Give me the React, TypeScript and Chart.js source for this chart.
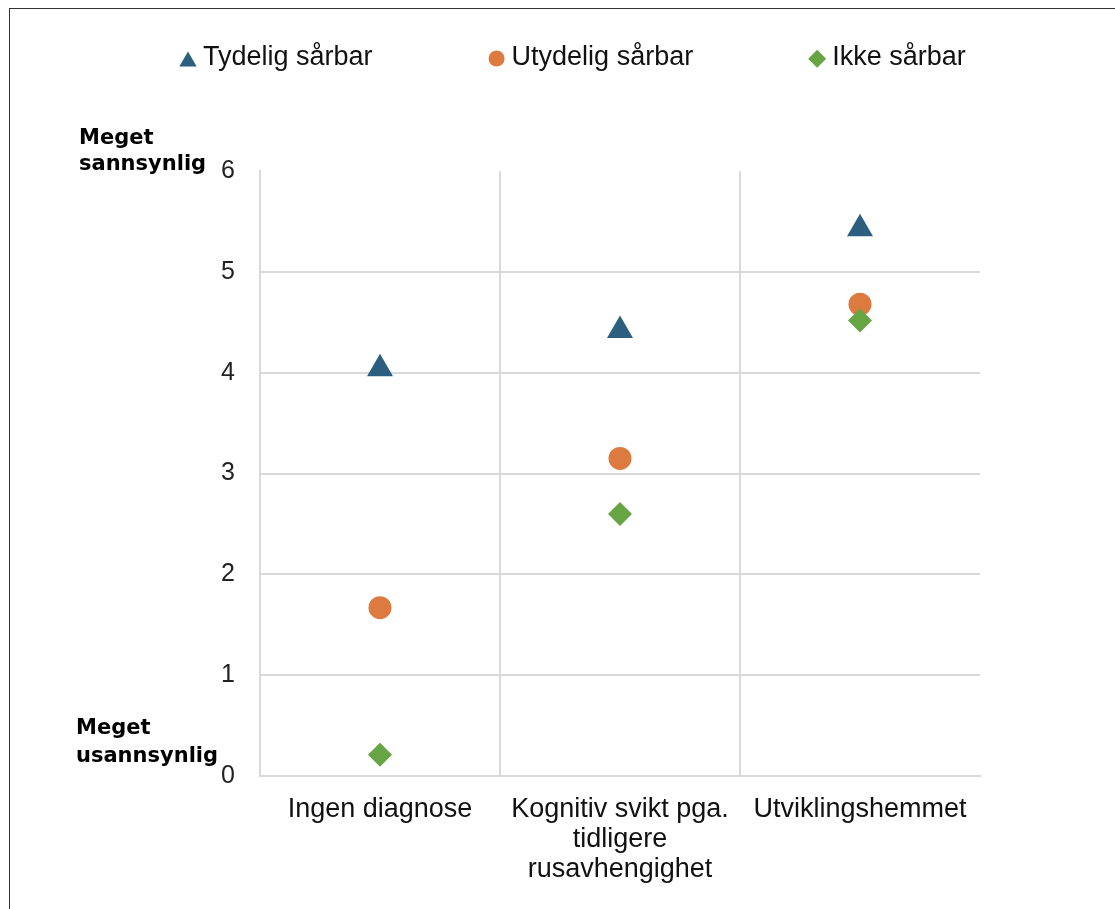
import React, { useEffect, useRef } from 'react';
import { Chart, registerables } from 'chart.js';
import { drawPoint } from 'chart.js/helpers';

Chart.register(...registerables);

const categories: (string | string[])[] = [
  'Ingen diagnose',
  ['Kognitiv svikt pga.', 'tidligere', 'rusavhengighet'],
  'Utviklingshemmet',
];
const seriesNames = ['Tydelig sårbar', 'Utydelig sårbar', 'Ikke sårbar'];
const tydelig = [4.04, 4.42, 5.43];
const utydelig = [1.67, 3.15, 4.68];
const ikke = [0.21, 2.6, 4.52];
const yTicks = [0, 1, 2, 3, 4, 5, 6];
const topLabel = ['Meget', 'sannsynlig'];
const bottomLabel = ['Meget', 'usannsynlig'];

const BLUE = '#2c5f7f';
const ORANGE = '#dd7a40';
const GREEN = '#67a544';
const GRID = '#d9d9d9';
const FONT = '"Liberation Sans", Arial, sans-serif';

const legendMarker: Record<string, { r: number; dy: number }> = {
  triangle: { r: 10, dy: 61.5 },
  circle: { r: 8, dy: 58.5 },
  rectRot: { r: 9, dy: 58.7 },
};

const annotate = {
  id: 'annotate',
  afterDraw(chart: any) {
    const { ctx } = chart;
    const y = chart.scales.y;
    ctx.save();
    // legend
    ctx.font = `27px ${FONT}`;
    ctx.textBaseline = 'alphabetic';
    ctx.textAlign = 'left';
    let cursor = 179;
    chart.data.datasets.forEach((ds: any) => {
      const m = legendMarker[ds.pointStyle];
      ctx.fillStyle = ds.backgroundColor;
      drawPoint(ctx, { pointStyle: ds.pointStyle, radius: m.r, rotation: 0, borderWidth: 0 } as any, cursor + 9, m.dy);
      ctx.fillStyle = '#111';
      const tx = cursor + 24;
      ctx.fillText(ds.label, tx, 65);
      cursor = tx + ctx.measureText(ds.label).width + 115;
    });
    // axis end labels
    ctx.font = `bold 21px "DejaVu Sans", sans-serif`;
    ctx.fillStyle = '#000';
    const yTop = y.getPixelForValue(6);
    const yBot = y.getPixelForValue(0);
    ctx.fillText(topLabel[0], 79, yTop - 27);
    ctx.fillText(topLabel[1], 79, yTop - 1);
    ctx.fillText(bottomLabel[0], 76, yBot - 42);
    ctx.fillText(bottomLabel[1], 76, yBot - 14);
    ctx.restore();
  },
};

export default function App() {
  const ref = useRef<HTMLCanvasElement | null>(null);
  useEffect(() => {
    if (!ref.current) return;
    const chart = new Chart(ref.current, {
      type: 'line',
      data: {
        labels: categories as any,
        datasets: [
          {
            label: seriesNames[0],
            data: tydelig,
            showLine: false,
            pointStyle: 'triangle',
            pointRadius: 15,
            pointHoverRadius: 15,
            backgroundColor: BLUE,
            borderColor: BLUE,
            pointBorderWidth: 0,
            order: 2,
          },
          {
            label: seriesNames[1],
            data: utydelig,
            showLine: false,
            pointStyle: 'circle',
            pointRadius: 11.5,
            pointHoverRadius: 11.5,
            backgroundColor: ORANGE,
            borderColor: ORANGE,
            pointBorderWidth: 0,
            order: 1,
          },
          {
            label: seriesNames[2],
            data: ikke,
            showLine: false,
            pointStyle: 'rectRot',
            pointRadius: 12,
            pointHoverRadius: 12,
            backgroundColor: GREEN,
            borderColor: GREEN,
            pointBorderWidth: 0,
            order: 0,
          },
        ] as any,
      },
      options: {
        animation: false,
        responsive: false,
        devicePixelRatio: 1,
        layout: { padding: { top: 171.2, right: 135, bottom: 0, left: 0 } },
        plugins: {
          legend: { display: false },
          tooltip: { enabled: false },
        },
        scales: {
          x: {
            type: 'category',
            offset: true,
            grid: {
              offset: true,
              drawTicks: false,
              lineWidth: 2,
              color: (c: any) => (c.type === 'tick' && c.index > 0 ? GRID : 'rgba(0,0,0,0)'),
            },
            border: { display: true, color: GRID, width: 2 },
            ticks: {
              autoSkip: false,
              maxRotation: 0,
              minRotation: 0,
              padding: 18,
              color: '#111',
              font: { family: FONT, size: 27, lineHeight: 1.12 },
            },
            afterFit: (s: any) => {
              s.height = 133;
            },
          } as any,
          y: {
            min: 0,
            max: 6,
            afterBuildTicks: (s: any) => {
              s.ticks = yTicks.map((v) => ({ value: v }));
            },
            grid: {
              drawTicks: false,
              lineWidth: 2,
              color: (c: any) => (c.tick && c.tick.value === 6 ? 'rgba(0,0,0,0)' : GRID),
            },
            border: { display: true, color: GRID, width: 2 },
            ticks: {
              padding: 25,
              color: '#222',
              font: { family: FONT, size: 25 },
            },
            afterFit: (s: any) => {
              s.width = 260;
            },
          } as any,
        },
      },
      plugins: [annotate],
    });
    return () => chart.destroy();
  }, []);

  return (
    <div style={{ position: 'fixed', left: 0, top: 0, width: 1115, height: 909, background: '#fff', overflow: 'hidden' }}>
      <div
        style={{
          position: 'absolute',
          left: 9,
          top: 8,
          width: 1200,
          height: 1000,
          borderLeft: '1px solid #333',
          borderTop: '1px solid #333',
        }}
      />
      <canvas ref={ref} width={1115} height={909} style={{ position: 'absolute', left: 0, top: 0 }} />
    </div>
  );
}
